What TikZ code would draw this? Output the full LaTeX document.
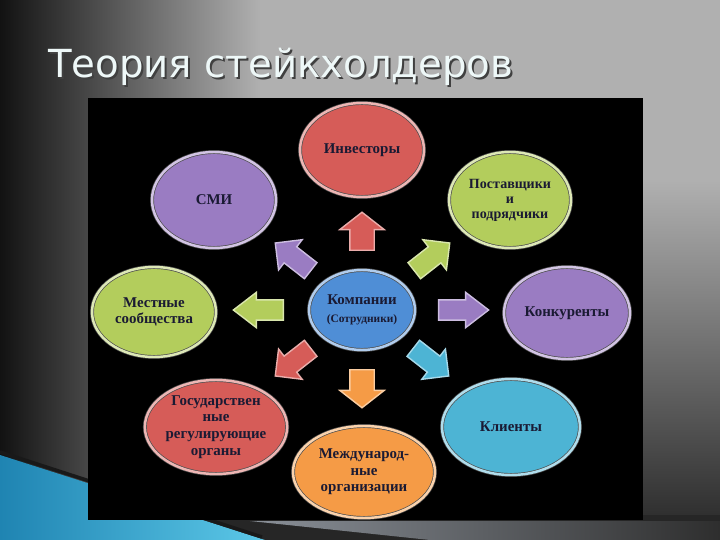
\documentclass[tikz,border=0pt]{standalone}
\usepackage{fontspec}
\setmainfont{Liberation Serif}
\newfontfamily\titlefont{DejaVu Sans}
\usetikzlibrary{shapes.geometric,shapes.arrows}

\definecolor{bgdark}{HTML}{121212}
\definecolor{bglight}{HTML}{B0B0B0}
\definecolor{bgbottom}{HTML}{262626}
\definecolor{tealA}{HTML}{1F84B2}
\definecolor{tealB}{HTML}{5CC8E8}
\definecolor{stripA}{HTML}{8A9098}
\definecolor{stripB}{HTML}{2E2E2E}
\definecolor{rd}{HTML}{D65C58}
\definecolor{pu}{HTML}{9A7CC2}
\definecolor{gn}{HTML}{B3CD5C}
\definecolor{bl}{HTML}{4F8ED6}
\definecolor{cy}{HTML}{4DB4D4}
\definecolor{og}{HTML}{F59B46}
\definecolor{ink}{HTML}{1A1A33}
\definecolor{titletext}{HTML}{EEF8F8}

\tikzset{
  bub/.style={ellipse, fill=#1, draw=black!70, double=#1!45!white,
    double distance=1.4pt, line width=0.4pt, inner sep=0pt, align=center,
    text=ink, font=\bfseries\fontsize{8.5}{9.5}\selectfont},
  arrv/.style={single arrow, fill=#1, draw=#1!50!white, line width=0.8pt,
    inner sep=0pt, inner ysep=0.23cm, minimum height=0.76cm,
    single arrow head extend=0.2cm, single arrow tip angle=104},
  arrh/.style={single arrow, fill=#1, draw=#1!50!white, line width=0.8pt,
    inner sep=0pt, inner ysep=0.19cm, minimum height=1cm,
    single arrow head extend=0.15cm, single arrow tip angle=75},
  arrd/.style={single arrow, fill=#1, draw=#1!50!white, line width=0.8pt,
    inner sep=0pt, inner ysep=0.19cm, minimum height=0.9cm,
    single arrow head extend=0.18cm, single arrow tip angle=90}
}

\begin{document}
\begin{tikzpicture}[x=0.02cm, y=-0.02cm]
    \useasboundingbox (0,0) rectangle (720,540);

    % Slide background
    \shade[left color=bgdark, right color=bglight] (0,0) rectangle (260,540);
    \fill[bglight] (260,0) rectangle (720,540);
    \shade[top color=bglight, bottom color=bgbottom] (600,180) rectangle (720,540);
    \fill[black!85] (0,515) rectangle (720,540);
    \shade[left color=stripA, right color=stripB] (250,521) -- (720,521) -- (720,540) -- (430,540) -- cycle;
    \shade[left color=tealA, right color=tealB] (0,455) -- (265,540) -- (0,540) -- cycle;
    \draw[black!90, line width=2pt] (0,452) -- (262,537);

    % Title
    \node[anchor=base west, text=black!75, font=\titlefont\fontsize{22}{26}\selectfont] (titleshadow) at (44,80) {Теория стейкхолдеров};
    \node[anchor=base west, text=titletext, font=\titlefont\fontsize{22}{26}\selectfont] (title) at (42,78) {Теория стейкхолдеров};

    % Picture area
    \fill[black] (88,98) rectangle (643,520);

    % Stakeholders
    \node[bub=rd, minimum width=2.48cm, minimum height=1.88cm] (inv) at (362,150) {Инвесторы};
    \node[bub=pu, minimum width=2.48cm, minimum height=1.92cm] (smi) at (214,200) {СМИ};
    \node[bub=gn, minimum width=2.44cm, minimum height=1.92cm, font=\bfseries\fontsize{8}{8.5}\selectfont] (post) at (510,200) {Поставщики\\и\\подрядчики};
    \node[bub=gn, minimum width=2.48cm, minimum height=1.8cm] (mest) at (154,312) {Местные\\сообщества};
    \node[bub=bl, minimum width=2.12cm, minimum height=1.6cm] (comp) at (362,310) {Компании\\[1pt]{\fontsize{6.5}{7}\selectfont(Сотрудники)}};
    \node[bub=pu, minimum width=2.52cm, minimum height=1.84cm] (konk) at (567,313) {Конкуренты};
    \node[bub=rd, minimum width=2.8cm, minimum height=1.88cm] (gos) at (216,427) {Государствен\\ные\\регулирующие\\органы};
    \node[bub=og, minimum width=2.84cm, minimum height=1.84cm] (mezh) at (364,472) {Международ-\\ные\\организации};
    \node[bub=cy, minimum width=2.76cm, minimum height=1.92cm] (klient) at (511,427) {Клиенты};

    % Arrows round the company
    \node[arrv=rd, rotate=90] (aUp) at (362,236) {};
    \node[arrv=og, rotate=-90] (aDown) at (362,384) {};
    \node[arrh=gn, rotate=180] (aLeft) at (265,310) {};
    \node[arrh=pu] (aRight) at (457,310) {};
    \node[arrd=pu, rotate=142] (aNW) at (297,260) {};
    \node[arrd=gn, rotate=38] (aNE) at (428,260) {};
    \node[arrd=rd, rotate=218] (aSW) at (297,359) {};
    \node[arrd=cy, rotate=322] (aSE) at (427,359) {};
\end{tikzpicture}
\end{document}
